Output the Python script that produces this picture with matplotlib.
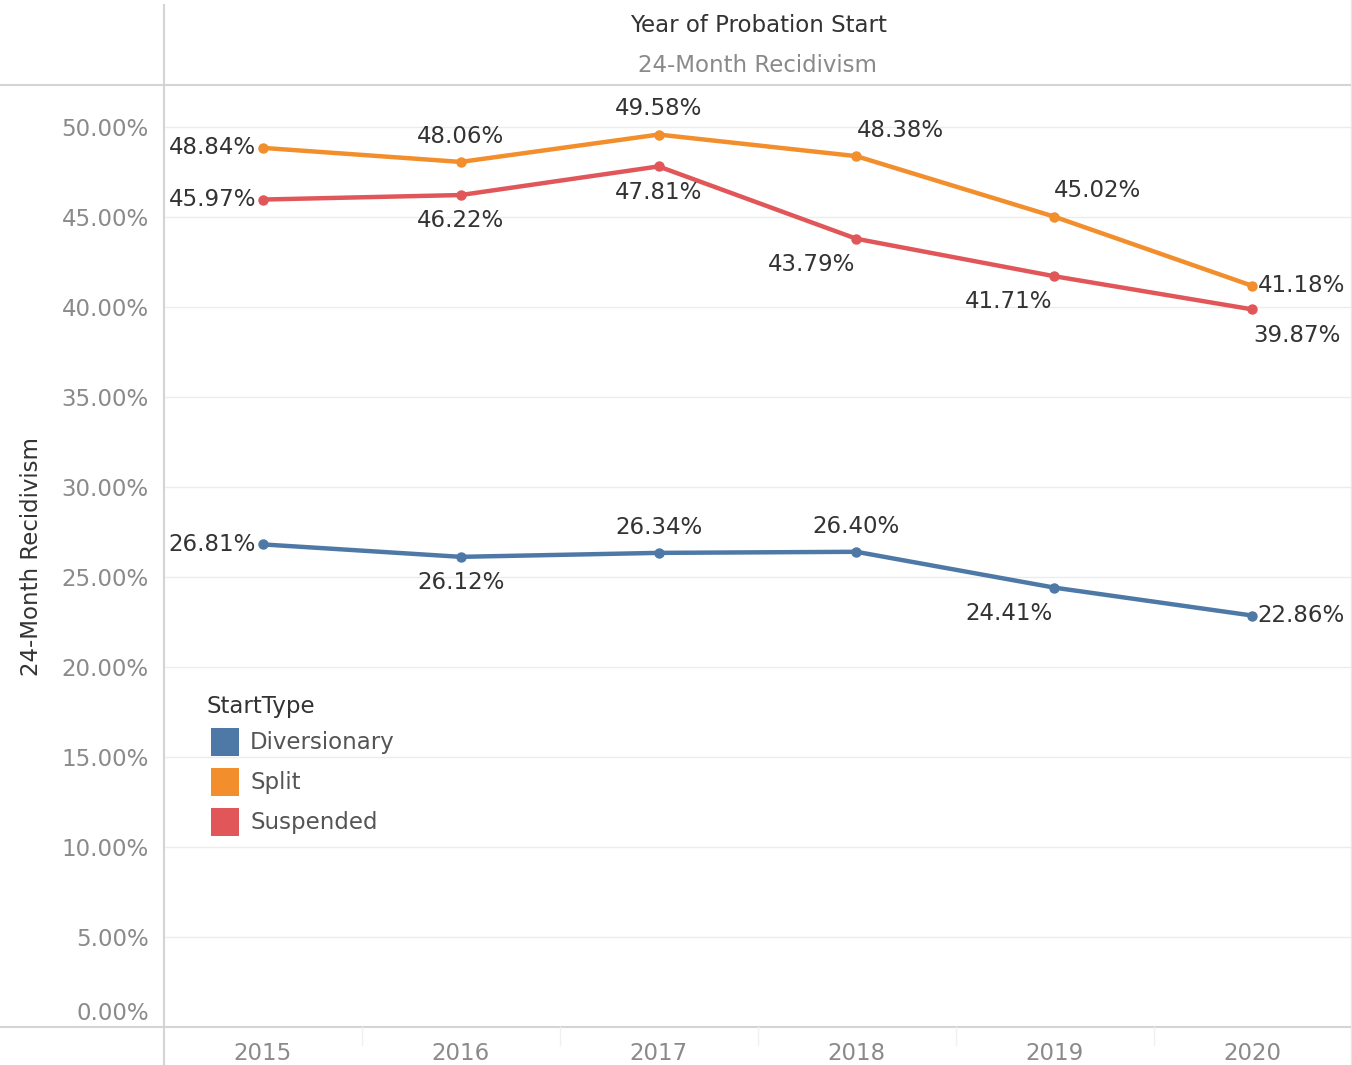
import matplotlib.pyplot as plt
from matplotlib.patches import Rectangle
from matplotlib.lines import Line2D
from matplotlib import transforms

# ------------------------------------------------------------------
# Data: 24-month recidivism by year of probation start
# ------------------------------------------------------------------
years = ['2015', '2016', '2017', '2018', '2019', '2020']
series_names = ['Diversionary', 'Split', 'Suspended']
diversionary = [26.81, 26.12, 26.34, 26.40, 24.41, 22.86]
split        = [48.84, 48.06, 49.58, 48.38, 45.02, 41.18]
suspended    = [45.97, 46.22, 47.81, 43.79, 41.71, 39.87]
y_ticks = [0, 5, 10, 15, 20, 25, 30, 35, 40, 45, 50]

colors = ['#4e79a7', '#f28e2b', '#e15759']

# where each data label sits relative to its point (Tableau-style placement)
# L = left, R = right, A = above, B = below, AR = above starting at point,
# BL = below ending at point, BR = below starting at point
place = [
    ['L', 'B', 'A', 'A', 'BL', 'R'],    # Diversionary
    ['L', 'A', 'A', 'AR', 'AR', 'R'],   # Split
    ['L', 'B', 'B', 'BL', 'BL', 'BR'],  # Suspended
]

W, H = 1352, 1065
FS = 16.5
plt.rcParams['font.family'] = ['DejaVu Sans']

fig = plt.figure(figsize=(W / 100, H / 100), dpi=100)

def fx(px):
    return px / W

def fy(py):
    return 1 - py / H

left_px, right_px, top_px, bot_px = 164, 1351, 85, 1027
ax = fig.add_axes([fx(left_px), fy(bot_px), fx(right_px) - fx(left_px), fy(top_px) - fy(bot_px)])

x = list(range(len(years)))
ax.set_xlim(-0.5, len(years) - 0.5)
ax.set_ylim(0, (bot_px - top_px) / 18.0)

for vals, col in zip([diversionary, split, suspended], colors):
    ax.plot(x, vals, color=col, linewidth=3.2, marker='o', markersize=6.5,
            solid_capstyle='round', zorder=3)

# data labels
off = 18.5  # points
for vals, plc in zip([diversionary, split, suspended], place):
    for xi, (v, p) in enumerate(zip(vals, plc)):
        txt = f'{v:.2f}%'
        if p == 'L':
            xy, ha, va = (-5, 0), 'right', 'center'
        elif p == 'R':
            xy, ha, va = (4, 0), 'left', 'center'
        elif p == 'A':
            xy, ha, va = (0, off), 'center', 'center'
        elif p == 'B':
            xy, ha, va = (0, -off), 'center', 'center'
        elif p == 'AR':
            xy, ha, va = (0, off), 'left', 'center'
        elif p == 'BL':
            xy, ha, va = (-1, -off), 'right', 'center'
        else:  # BR
            xy, ha, va = (1, -off), 'left', 'center'
        ax.annotate(txt, (xi, v), xytext=xy, textcoords='offset points',
                    ha=ha, va=va, fontsize=FS, color='#333333', zorder=4)

# axes styling
ax.set_yticks(y_ticks)
ax.set_yticklabels([f'{t:.2f}%' for t in y_ticks])
ax.set_xticks(x)
ax.set_xticklabels(years)
ax.tick_params(axis='both', length=0, labelsize=FS, labelcolor='#8a8a8a')
ax.tick_params(axis='y', pad=11)
ax.tick_params(axis='x', pad=11)
for s in ax.spines.values():
    s.set_visible(False)
ax.grid(axis='y', color='#ececec', linewidth=1)
ax.set_axisbelow(True)

# nudge the 0.00% label up, as Tableau keeps it inside the pane
lbls = ax.get_yticklabels()
lbls[0].set_transform(lbls[0].get_transform() +
                      transforms.ScaledTranslation(0, 16 / 100, fig.dpi_scale_trans))

ax.set_ylabel('24-Month Recidivism', fontsize=FS, color='#333333')
ax.yaxis.set_label_coords((43 - left_px) / (right_px - left_px), 0.5)

# frame lines around header / axis panes
line_col = '#d4d4d4'
fig.add_artist(Line2D([fx(164), fx(164)], [fy(5), fy(1065)], color=line_col, lw=1.5))
fig.add_artist(Line2D([0, 1], [fy(85), fy(85)], color=line_col, lw=1.5))
fig.add_artist(Line2D([0, 1], [fy(1027), fy(1027)], color=line_col, lw=1.5))
fig.add_artist(Line2D([fx(1351), fx(1351)], [fy(0), fy(1065)], color='#e6e6e6', lw=1))
for i in range(1, len(years)):
    xp = left_px + i * 198
    fig.add_artist(Line2D([fx(xp), fx(xp)], [fy(1027), fy(1045)], color='#f0f0f0', lw=1))

# header
fig.text(fx(758), fy(25), 'Year of Probation Start', ha='center', va='center',
         fontsize=FS, color='#333333')
fig.text(fx(758), fy(65), '24-Month Recidivism', ha='center', va='center',
         fontsize=FS, color='#8a8a8a')

# legend
fig.text(fx(207), fy(706), 'StartType', ha='left', va='center', fontsize=FS,
         color='#333333')
for i, (name, col) in enumerate(zip(series_names, colors)):
    y0 = 728 + 40 * i
    fig.add_artist(Rectangle((fx(211), fy(y0 + 28)), fx(28), 28 / H,
                             facecolor=col, edgecolor='none'))
    fig.text(fx(250), fy(y0 + 14), name, ha='left', va='center', fontsize=FS,
             color='#555555')

fig.savefig('out.png', dpi=100)
